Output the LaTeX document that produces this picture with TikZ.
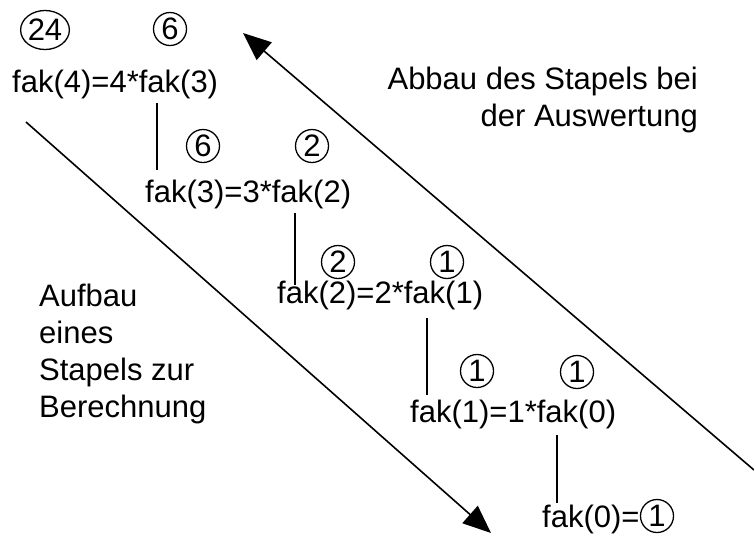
\documentclass[tikz,border=0pt]{standalone}
\usepackage{fontspec}
\setmainfont{Liberation Sans}
\usetikzlibrary{arrows.meta,shapes.geometric}
\begin{document}
\begin{tikzpicture}[x=1pt,y=-1pt,
  txt/.style={inner sep=0pt, font=\fontsize{31}{37}\selectfont},
  row/.style={txt, anchor=base west},
  circd/.style={txt, draw, circle, line width=1.3pt, minimum size=33pt},
  circw/.style={txt, draw, ellipse, line width=1.3pt, minimum width=44pt, minimum height=39pt},
  link/.style={line width=1.6pt},
  bigarrow/.style={line width=1.6pt, -{Triangle[length=28pt,width=23pt]}}]
\useasboundingbox (0,0) rectangle (754,542);

% recursion rows
\node[row] (f4) at (12,92)  {fak(4)=4*fak(3)};
\node[row] (f3) at (145,202) {fak(3)=3*fak(2)};
\node[row] (f2) at (277,303) {fak(2)=2*fak(1)};
\node[row] (f1) at (410,422) {fak(1)=1*fak(0)};
\node[row] (f0) at (542,527) {fak(0)=};

% returned values
\node[circw] (v4a) at (45,30)  {24};
\node[circd] (v4b) at (170,29) {6};
\node[circd] (v3a) at (203,146) {6};
\node[circd] (v3b) at (312,146) {2};
\node[circd] (v2a) at (338,262) {2};
\node[circd] (v2b) at (447,262) {1};
\node[circd] (v1a) at (477,371) {1};
\node[circd] (v1b) at (577,372) {1};
\node[circd] (v0)  at (657,516) {1};

% links between the calls
\coordinate (a4) at (157,103); \coordinate (b3) at (157,170);
\coordinate (a3) at (295,213); \coordinate (b2) at (295,285);
\coordinate (a2) at (427,318); \coordinate (b1) at (427,395);
\coordinate (a1) at (557,435); \coordinate (b0) at (557,503);
\draw[link] (a4) -- (b3);
\draw[link] (a3) -- (b2);
\draw[link] (a2) -- (b1);
\draw[link] (a1) -- (b0);

% stack build-up and unwinding
\coordinate (downS) at (26,122);  \coordinate (downE) at (491,533);
\coordinate (upS)   at (754,470); \coordinate (upE)   at (243,33);
\draw[bigarrow] (downS) -- (downE);
\draw[bigarrow] (upS) -- (upE);

% captions (base anchor sits on the last line)
\node[txt, align=right, anchor=base east] (abbau) at (698,126)
  {Abbau des Stapels bei\\der Auswertung};
\node[txt, align=left, anchor=base west] (aufbau) at (39,417)
  {Aufbau\\eines\\Stapels zur\\Berechnung};
\end{tikzpicture}
\end{document}
